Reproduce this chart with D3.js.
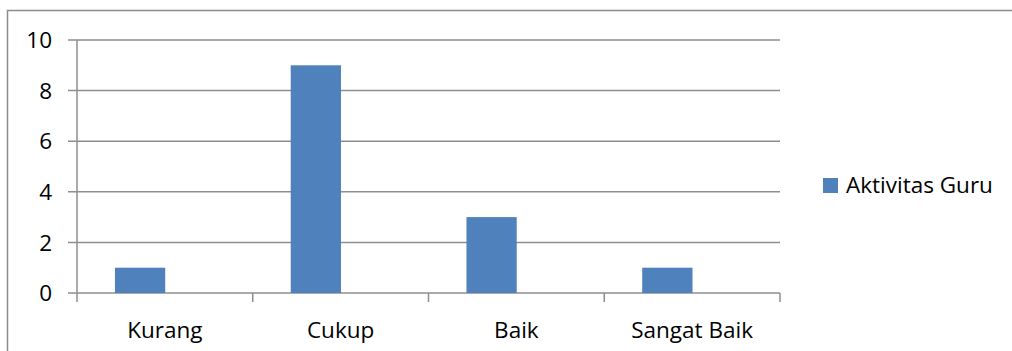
<!DOCTYPE html>
<html>
<head>
<meta charset="utf-8">
<script src="https://cdn.jsdelivr.net/npm/d3@7"></script>
<style>
  body { margin: 0; background: #fff; }
  svg text { font-family: "Open Sans", sans-serif; fill: #000; }
</style>
</head>
<body>
<div id="chart"></div>
<script>
// --- Data ---
const categories = ['Kurang', 'Cukup', 'Baik', 'Sangat Baik'];
const values = [1, 9, 3, 1];
const seriesName = 'Aktivitas Guru';
const yTicks = [0, 2, 4, 6, 8, 10];

const W = 1012, H = 351;
const margin = { top: 40, right: 232, bottom: 58, left: 77 };
const width = W - margin.left - margin.right;
const height = H - margin.top - margin.bottom;
const fontSize = 22.5;

const root = d3.select('#chart').append('svg')
    .attr('width', W)
    .attr('height', H);

// outer frame (runs off the right/bottom edge like the source)
root.append('rect')
    .attr('x', 7.5).attr('y', 10.5)
    .attr('width', W + 20).attr('height', H + 20)
    .attr('fill', 'none')
    .attr('stroke', '#8c8c8c')
    .attr('stroke-width', 1.5);

const svg = root.append('g')
    .attr('transform', `translate(${margin.left},${margin.top})`);

// --- Scales ---
const x = d3.scaleBand().domain(categories).range([0, width]).padding(0);
const y = d3.scaleLinear().domain([0, 10]).range([height, 0]);

// --- Gridlines ---
svg.selectAll('.grid')
    .data(yTicks)
    .enter().append('line')
    .attr('x1', -9).attr('x2', width)
    .attr('y1', d => y(d)).attr('y2', d => y(d))
    .attr('stroke', '#8e8e8e')
    .attr('stroke-width', 1.5);

// y axis line
svg.append('line')
    .attr('x1', 0).attr('x2', 0)
    .attr('y1', 0).attr('y2', height + 9)
    .attr('stroke', '#8e8e8e')
    .attr('stroke-width', 1.5);

// x ticks at band boundaries
const bounds = categories.map(c => x(c)).concat([width]);
svg.selectAll('.xtick')
    .data(bounds.slice(1))
    .enter().append('line')
    .attr('x1', d => d).attr('x2', d => d)
    .attr('y1', height).attr('y2', height + 9)
    .attr('stroke', '#8e8e8e')
    .attr('stroke-width', 1.5);

// y labels
svg.selectAll('.ylab')
    .data(yTicks)
    .enter().append('text')
    .attr('x', -25)
    .attr('y', d => y(d))
    .attr('dy', '0.36em')
    .attr('text-anchor', 'end')
    .attr('font-size', fontSize)
    .text(d => d);

// x labels
svg.selectAll('.xlab')
    .data(categories)
    .enter().append('text')
    .attr('x', d => x(d) + x.bandwidth() / 2)
    .attr('y', height + 45)
    .attr('text-anchor', 'middle')
    .attr('font-size', fontSize)
    .text(d => d);

// --- Bars ---
const bw = x.bandwidth();
svg.selectAll('.bar')
    .data(values)
    .enter().append('rect')
    .attr('x', (d, i) => x(categories[i]) + bw * 0.216)
    .attr('width', bw * 0.286)
    .attr('y', d => y(d))
    .attr('height', d => height - y(d))
    .attr('fill', '#4f81bd');

// --- Legend ---
const lg = root.append('g').attr('transform', `translate(823,178)`);
lg.append('rect')
    .attr('width', 15).attr('height', 15)
    .attr('fill', '#4f81bd');
lg.append('text')
    .attr('x', 23).attr('y', 15)
    .attr('font-size', fontSize)
    .text(seriesName);
</script>
</body>
</html>
